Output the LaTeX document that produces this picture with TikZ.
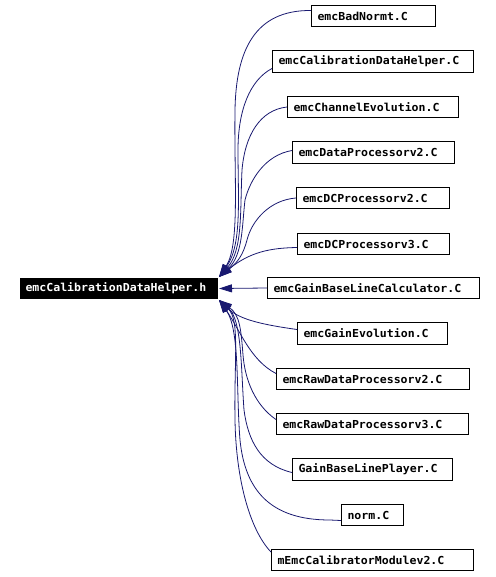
\documentclass[tikz,border=0pt]{standalone}
\usepackage{fontspec}
\newfontfamily\dmono[FakeStretch=1.05]{DejaVu Sans Mono}
\usetikzlibrary{arrows.meta,calc}
\definecolor{edgeblue}{RGB}{25,25,112}
\begin{document}
\begin{tikzpicture}[x=1pt,y=-1pt,
  box/.style={draw=black,line width=1pt,fill=white,anchor=north west,inner xsep=6pt,inner ysep=0pt,align=left,
    font={\fontsize{11}{12}\selectfont\dmono\bfseries}},
  rootbox/.style={box,fill=black,text=white,inner xsep=5pt},
  edge/.style={draw=edgeblue,line width=0.8pt,-{Triangle[length=13pt,width=8pt]}}]
\useasboundingbox (0,0) rectangle (495,577);

\node[rootbox,text width=187pt,minimum height=20pt] (root) at (20,278) {emcCalibrationDataHelper.h};

\node[box,text width=112pt,minimum height=21pt] (n1) at (311,5) {emcBadNormt.C};
\node[box,text width=189pt,minimum height=22pt] (n2) at (272,50) {emcCalibrationDataHelper.C};
\node[box,text width=159pt,minimum height=21pt] (n3) at (287,96) {emcChannelEvolution.C};
\node[box,text width=150pt,minimum height=22pt] (n4) at (292,141) {emcDataProcessorv2.C};
\node[box,text width=141pt,minimum height=21pt] (n5) at (296,187) {emcDCProcessorv2.C};
\node[box,text width=140pt,minimum height=21pt] (n6) at (297,233) {emcDCProcessorv3.C};
\node[box,text width=200pt,minimum height=21pt] (n7) at (267,277) {emcGainBaseLineCalculator.C};
\node[box,text width=138pt,minimum height=22pt] (n8) at (297,322) {emcGainEvolution.C};
\node[box,text width=181pt,minimum height=21pt] (n9) at (276,368) {emcRawDataProcessorv2.C};
\node[box,text width=180pt,minimum height=21pt] (n10) at (276,413) {emcRawDataProcessorv3.C};
\node[box,text width=148pt,minimum height=22pt] (n11) at (292,458) {GainBaseLinePlayer.C};
\node[box,text width=50pt,minimum height=21pt] (n12) at (341,504) {norm.C};
\node[box,text width=190pt,minimum height=21pt] (n13) at (271,549) {mEmcCalibratorModulev2.C};

% upper bundle
\draw[edge] ($(n1.west)+(0,-5.5)$) .. controls (255,10) and (236,50) .. (235,110) .. controls (234,180) and (240,245) .. ($(root.north east)+(1,-1)$);
\draw[edge] ($(n2.west)+(0,7)$) .. controls (250,80) and (238,110) .. (238,150) .. controls (238,200) and (242,245) .. ($(root.north east)+(1,-1)$);
\draw[edge] (n3.west) .. controls (260,110) and (245,135) .. (242,170) .. controls (240,210) and (243,250) .. ($(root.north east)+(1,-1)$);
\draw[edge] ($(n4.west)+(0,-2)$) .. controls (265,155) and (250,180) .. (245,200) .. controls (242,225) and (243,255) .. ($(root.north east)+(1,-1)$);
\draw[edge] (n5.west) .. controls (270,200) and (252,220) .. (247,240) .. controls (243,255) and (238,262) .. ($(root.north east)+(1,-1)$);
\draw[edge] ($(n6.west)+(0,3.5)$) .. controls (270,248) and (250,252) .. ($(root.north east)+(1,-1)$);
% middle
\draw[edge] (n7.west) -- ($(root.east)+(1,0)$);
% lower bundle
\draw[edge] ($(n8.west)+(0,-4)$) .. controls (265,325) and (240,320) .. ($(root.south east)+(1,1)$);
\draw[edge] ($(n9.west)+(0,-5.5)$) .. controls (250,360) and (240,330) .. ($(root.south east)+(1,1)$);
\draw[edge] ($(n10.west)+(0,-4.5)$) .. controls (255,405) and (245,380) .. (243,355) .. controls (241,330) and (240,315) .. ($(root.south east)+(1,1)$);
\draw[edge] ($(n11.west)+(0,3)$) .. controls (260,465) and (248,440) .. (244,410) .. controls (241,370) and (242,320) .. ($(root.south east)+(1,1)$);
\draw[edge] ($(n12.west)+(0,5.5)$) -- (330,520) .. controls (270,520) and (245,490) .. (240,440) .. controls (236,390) and (240,330) .. ($(root.south east)+(1,1)$);
\draw[edge] ($(n13.north west)+(0,3)$) .. controls (250,530) and (236,480) .. (235,420) .. controls (234,360) and (240,320) .. ($(root.south east)+(1,1)$);
\end{tikzpicture}
\end{document}
